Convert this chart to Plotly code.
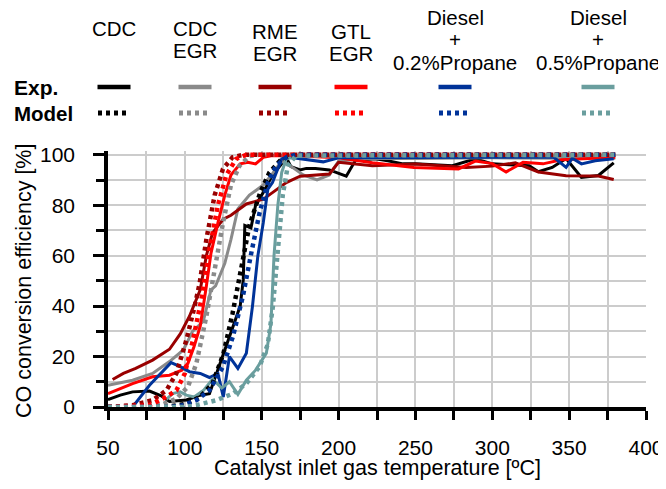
#!/usr/bin/env python3

import plotly.graph_objects as go

# Measured CO conversion (solid lines)
cdc_exp_t = [50, 58, 66, 77, 85, 90, 101, 110, 116, 119, 125, 131, 136, 138, 139, 143, 146, 151, 157, 163,
             165, 169, 175, 179, 185, 194, 205, 211, 224, 231, 242, 250, 274, 289, 300, 311, 324, 330, 339,
             348, 358, 369, 379]
cdc_exp_v = [2.9, 4.7, 6, 6.3, 4.3, 2.2, 2.8, 4.7, 5.3, 10.6, 21, 32, 40, 50.5, 72, 71, 80, 85, 92, 96.4,
             100, 95.3, 94, 94.6, 94.6, 94, 91.5, 97.8, 98.4, 97.7, 96.4, 96.4, 95.7, 98.4, 96.4, 96, 95.7,
             93.3, 95, 98.5, 91, 91.8, 96.8]

cdc_egr_exp_t = [50, 66, 79, 90, 99, 105, 112, 117, 120, 126, 130, 134.5, 142, 151, 157, 163, 170, 177,
                 186, 194, 200, 220, 250, 300, 350, 380]
cdc_egr_exp_v = [8.6, 10.6, 13.3, 18, 22.6, 30, 34, 46.5, 48, 57, 66.5, 78.5, 84, 88, 92.5, 97.5, 95, 92,
                 90, 92, 97.5, 98.5, 98.5, 98.8, 98.6, 98.6]

rme_egr_exp_t = [53, 60, 68, 79, 90, 97, 103, 110, 114, 118, 125, 130, 140, 151, 157, 166, 175, 194, 200,
                 222, 250, 283, 300, 315, 330, 348, 369, 379]
rme_egr_exp_v = [10.9, 13.3, 15.3, 18.6, 22.9, 29, 36, 46.5, 60, 69, 74.5, 76, 80.5, 82.4, 85, 89, 91.5,
                 92.4, 97, 95.7, 96.3, 95, 95.5, 96.8, 93.2, 91.7, 91.6, 90.2]

gtl_egr_exp_t = [50, 58, 66, 79, 90, 98, 102, 106, 110, 114, 117, 121.5, 126, 130, 136, 141, 146, 151,
                 157, 175, 200, 222, 249, 278, 289, 300, 309, 320, 333, 345, 380]
gtl_egr_exp_v = [5.3, 7.3, 9.3, 12, 12.6, 14.6, 17.3, 24, 32, 48, 61, 73, 84, 92, 96.4, 97, 96.4, 99,
                 99.7, 99.5, 98.8, 96.8, 95, 94.4, 97.5, 96.5, 93.2, 97, 96.4, 98, 99]

d02_exp_t = [66, 77, 91, 97, 103, 110, 116, 121.5, 125, 129, 134.5, 140, 144, 147.5, 151, 154, 157, 163,
             168, 175, 190, 200, 250, 300, 340, 348, 352, 358, 367, 379]
d02_exp_v = [0, 8.6, 17.6, 16, 14, 13.3, 11.7, 13.3, 4, 20, 15.3, 21.3, 40, 60, 73, 86.4, 89, 98.4, 99,
             98.4, 97.2, 98.8, 99, 99, 99, 95, 98.6, 96.4, 97.6, 98.4]

d05_exp_t = [88, 92, 97, 101, 106, 112, 118, 124, 129, 134.5, 140, 146, 153, 156, 158, 160.5, 163, 166,
             175, 200, 250, 300, 350, 380]
d05_exp_v = [3, 5.3, 6, 4.7, 4, 6.5, 11, 7.5, 10, 5, 10.6, 14.6, 21.3, 33, 60, 80, 93, 98.4, 99.5, 99.6,
             99.7, 99.7, 99.6, 99.7]

# Model results (dotted lines)
cdc_mod_t = [50, 88, 101, 110, 118, 125, 131, 137, 142, 149, 155, 162, 168, 175, 380]
cdc_mod_v = [0, 0, 1.3, 4, 9.3, 21, 37, 56, 72, 85, 93, 97.7, 99.7, 100, 100]

cdc_egr_mod_t = [50, 84, 94.5, 102, 107.5, 114, 119.4, 124.8, 130, 135.6, 142, 148, 380]
cdc_egr_mod_v = [0, 0.7, 3.3, 8, 17.3, 36, 54.5, 73, 88, 95.7, 99.5, 100, 100]

rme_egr_mod_t = [50, 66, 79, 88, 94.5, 101, 106.4, 109.6, 114, 119.4, 124.8, 131, 138, 380]
rme_egr_mod_v = [0, 0.7, 2.7, 6.6, 13.3, 26.6, 40, 49, 66.5, 84, 94.4, 99, 100, 100]

gtl_egr_mod_t = [50, 77, 88, 94.5, 100, 105.3, 110.7, 116, 121.5, 127, 133.4, 140, 380]
gtl_egr_mod_v = [0, 0.7, 4, 6.6, 13.3, 26.6, 42.5, 62.5, 80, 92, 98.4, 100, 100]

d02_mod_t = [50, 90, 99, 107.5, 116, 124.8, 131.3, 137.8, 143.2, 148.6, 154, 159.4, 166, 172, 380]
d02_mod_v = [0, 0, 0.7, 2.7, 6.6, 16, 28, 44, 61, 77, 89, 95.7, 99, 100, 100]

d05_mod_t = [50, 100, 107.5, 120.5, 131.3, 140, 148.6, 154, 157.3, 159.4, 161.6, 163.7, 167, 172.4, 380]
d05_mod_v = [0, 0, 0.7, 2.7, 5.3, 9.3, 16, 25, 40, 53, 69, 84, 95.7, 99.7, 100]

headers = [["CDC"], ["CDC", "EGR"], ["RME", "EGR"], ["GTL", "EGR"],
           ["Diesel", "+", "0.2%Propane"], ["Diesel", "+", "0.5%Propane"]]
colors = ["#000000", "#8a8a8a", "#990000", "#ff0000", "#003399", "#6a9e9e"]

FONT = "Liberation Sans, Arial, sans-serif"
W, H = 666, 489
OFF = 8  # page body margin shifts the figure by this much
L, T = 108 - OFF, 151 - OFF
R, B = W - (646 - OFF), H - (407 - OFF)
DOT = "4px,4px"


def paper(px, py):
    # screen pixel position -> paper coords
    px, py = px - OFF, py - OFF
    return (px - L) / (W - L - R), (H - B - py) / (H - T - B)


def note(text, px, py, size, xanchor="center", angle=0):
    x, y = paper(px, py)
    return dict(text=text, x=x, y=y, xref="paper", yref="paper", showarrow=False,
                xanchor=xanchor, yanchor="middle", textangle=angle,
                font=dict(family=FONT, size=size, color="black"))


def main():
    exp = [(cdc_exp_t, cdc_exp_v), (cdc_egr_exp_t, cdc_egr_exp_v), (rme_egr_exp_t, rme_egr_exp_v),
           (gtl_egr_exp_t, gtl_egr_exp_v), (d02_exp_t, d02_exp_v), (d05_exp_t, d05_exp_v)]
    mod = [(cdc_mod_t, cdc_mod_v), (cdc_egr_mod_t, cdc_egr_mod_v), (rme_egr_mod_t, rme_egr_mod_v),
           (gtl_egr_mod_t, gtl_egr_mod_v), (d02_mod_t, d02_mod_v), (d05_mod_t, d05_mod_v)]

    fig = go.Figure()
    for (t, v), c in zip(exp, colors):
        fig.add_trace(go.Scatter(x=t, y=v, mode="lines", line=dict(color=c, width=3), showlegend=False))
    for (t, v), c in zip(mod, colors):
        fig.add_trace(go.Scatter(x=t, y=v, mode="lines", line=dict(color=c, width=4.5, dash=DOT),
                                 showlegend=False))

    # Hand-made legend table above the plot.
    centers = [114, 195, 275, 351, 455, 598]
    line_y = {1: [28], 2: [28, 50], 3: [17, 39, 62]}
    annotations, shapes = [], []
    for i, (hdr, cx, c) in enumerate(zip(headers, centers, colors)):
        ys = line_y[len(hdr)]
        if i in (2, 3):
            ys = [31, 53]
        for txt, ty in zip(hdr, ys):
            annotations.append(note(txt, cx, ty, 20.5))
        x0, y0 = paper(cx - 16.5, 87)
        x1, _ = paper(cx + 16.5, 87)
        shapes.append(dict(type="line", xref="paper", yref="paper", x0=x0, x1=x1, y0=y0, y1=y0,
                           line=dict(color=c, width=4.5)))
        x0, y0 = paper(cx - 16, 113)
        x1, _ = paper(cx + 16, 113)
        shapes.append(dict(type="line", xref="paper", yref="paper", x0=x0, x1=x1, y0=y0, y1=y0,
                           line=dict(color=c, width=5, dash="4px,4px")))
    annotations.append(note("<b>Exp.</b>", 12, 87, 21, xanchor="left"))
    annotations.append(note("<b>Model</b>", 12, 113, 20.5, xanchor="left"))

    # Axis titles
    annotations.append(note("Catalyst inlet gas temperature [ºC]", 377, 468, 21.5))
    annotations.append(note("CO conversion efficiency [%]", 24, 281, 21.5, angle=-90))

    grid = "#cccccc"
    fig.update_layout(
        width=W, height=H,
        margin=dict(l=L, r=R, t=T, b=B, pad=0),
        plot_bgcolor="white", paper_bgcolor="white",
        font=dict(family=FONT, size=21, color="black"),
        annotations=annotations, shapes=shapes,
        xaxis=dict(range=[50, 400], tick0=50, dtick=50, ticks="outside", ticklen=9, tickwidth=3,
                   tickcolor="black", showline=True, linecolor="black", linewidth=3.5,
                   showgrid=True, gridcolor=grid, gridwidth=1.5, zeroline=False,
                   ticklabelstandoff=10, automargin=False,
                   minor=dict(tick0=50, dtick=25, ticks="outside", ticklen=9, tickwidth=3,
                              tickcolor="black", showgrid=True, gridcolor=grid, gridwidth=1.5)),
        yaxis=dict(range=[0, 101.5], tick0=0, dtick=20, ticks="outside", ticklen=11, tickwidth=3,
                   tickcolor="black", showline=True, linecolor="black", linewidth=3.5,
                   showgrid=True, gridcolor=grid, gridwidth=1.5, zeroline=False,
                   ticklabelstandoff=14, automargin=False,
                   minor=dict(tick0=0, dtick=10, ticks="outside", ticklen=8, tickwidth=3,
                              tickcolor="black", showgrid=True, gridcolor=grid, gridwidth=1.5)),
    )

    fig.write_html("out.html")


if __name__ == "__main__":
    main()
